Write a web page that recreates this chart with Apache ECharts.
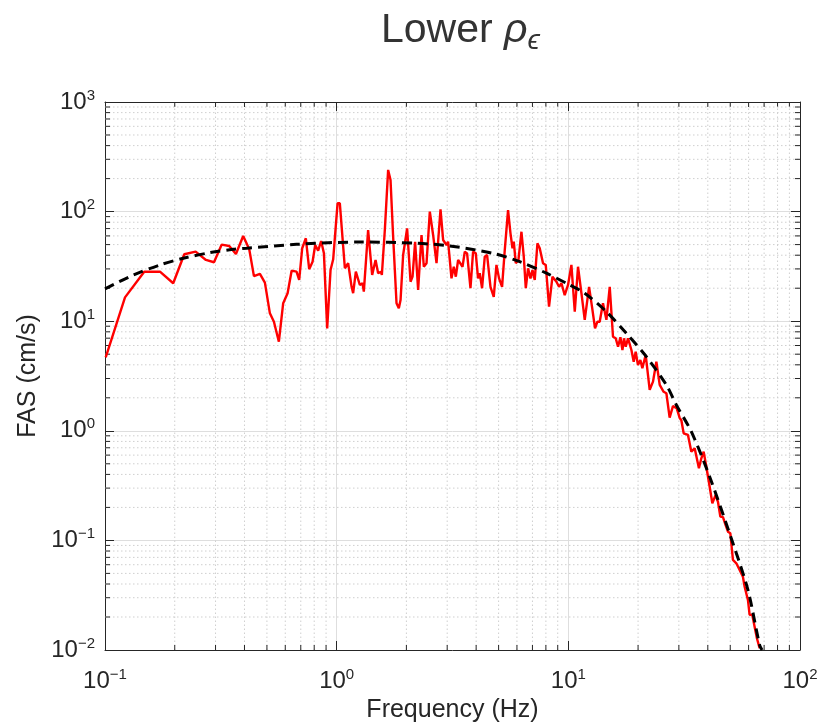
<!DOCTYPE html>
<html>
<head>
<meta charset="utf-8">
<script src="https://cdn.jsdelivr.net/npm/echarts@6/dist/echarts.min.js"></script>
<style>
html,body{margin:0;padding:0;background:#ffffff;}
#chart{width:818px;height:723px;}
</style>
</head>
<body>
<div id="chart"></div>
<script>
// ---- Data ----
const observedFreq = [
  0.1007,0.122,0.1477,0.1727,0.197,0.2199,0.2462,0.2727,0.2954,0.3187,
  0.3438,0.3674,0.395,0.4194,0.4394,0.4664,0.49,0.515,0.536,0.563,
  0.5877,0.614,0.639,0.671,0.689,0.71,0.736,0.761,0.787,0.808,
  0.832,0.857,0.881,0.91,0.941,0.966,1.009,1.032,1.085,1.121,
  1.16,1.178,1.21,1.259,1.293,1.31,1.367,1.423,1.472,1.51,
  1.551,1.567,1.614,1.668,1.708,1.753,1.813,1.855,1.887,1.936,
  2.014,2.084,2.126,2.181,2.247,2.324,2.378,2.443,2.524,2.608,
  2.698,2.807,2.881,2.98,3.027,3.131,3.203,3.268,3.344,3.493,
  3.573,3.656,3.781,3.88,3.986,4.077,4.147,4.243,4.358,4.459,
  4.612,4.765,4.895,5.023,5.176,5.316,5.493,5.627,5.74,5.814,
  5.932,6.092,6.275,6.422,6.551,6.702,6.864,7.002,7.161,7.356,
  7.526,7.776,7.99,8.255,8.54,8.884,9.119,9.338,9.647,9.97,
  10.31,10.66,11.01,11.39,11.77,12.29,12.65,13.04,13.35,13.66,
  14.11,14.6,15.09,15.59,16.02,16.39,16.78,17.12,17.39,17.69,
  18.1,18.72,19.15,19.53,19.98,20.46,20.87,21.57,22.45,23.2,
  23.99,24.8,25.79,26.5,27.37,28.29,29.35,30.24,30.75,31.46,
  32.84,33.96,35.1,35.69,36.62,37.51,38.38,39.42,40.74,41.84,
  43.24,44.24,45.3,46.5,47.75,48.86,50.04,51.35,53.11,54.88,
  56.7,57.68,59.6,60.61,62.26,63.69,65.16,66.94
];
const observedFas = [
  4.68,16.5,28.3,28.3,22.2,40.8,43.1,36.2,34.5,49.9,
  48.6,41.0,59.9,45.3,25.8,27.0,22.5,11.8,9.9,6.5,
  14.6,18.0,28.9,28.3,23.8,46.3,57.1,29.8,34.9,49.6,
  44.0,53.9,41.6,8.61,29.3,36.7,119,119,30.4,33.8,
  20.6,18.0,28.3,21.4,22.2,18.6,67.9,26.4,36.2,27.4,
  28.3,26.4,67.9,240,194,59.0,14.6,13.1,15.6,40.2,
  70.4,22.9,25.5,53.1,19.3,61.2,31.4,33.8,99.8,61.2,
  33.8,105,55.1,49.6,53.1,24.6,31.4,25.5,36.2,31.4,
  43.1,41.6,20.0,43.1,41.6,24.6,27.4,20.0,38.8,40.2,
  20.6,16.7,32.6,24.6,20.6,44.6,103,63.4,46.3,53.1,
  33.8,36.2,65.5,38.8,20.0,30.4,24.6,29.3,23.8,51.4,
  46.3,33.8,32.6,13.6,25.5,22.9,20.6,22.2,17.3,21.4,
  32.6,12.2,31.4,18.0,10.3,20.6,13.6,8.61,9.9,9.9,
  14.6,10.3,20.6,7.22,6.98,5.85,7.13,5.46,6.98,5.85,
  6.98,5.46,4.27,5.27,3.98,4.43,3.72,4.92,2.36,2.81,
  4.27,2.62,2.27,2.20,1.32,1.68,1.61,1.31,1.25,0.949,
  0.916,0.645,0.692,0.692,0.455,0.561,0.645,0.470,0.309,0.218,
  0.260,0.225,0.165,0.163,0.138,0.120,0.116,0.0663,0.0618,0.0537,
  0.0466,0.0378,0.0286,0.0209,0.0209,0.0163,0.0128,0.0104
];
const modelFreq = [0.1,0.1325,0.1727,0.2177,0.2838,0.3577,0.4087,0.671,1.259,2.212,
  3.078,4.732,6.17,8.045,10.14,11.77,14.6,17.81,21.72,26.5,
  29.26,33.96,40.74,51.35,59.6,66.94,68.6];
const modelFas = [19.7,26.4,32.6,37.5,42.2,45.3,46.3,50.3,52.8,51.4,
  48.6,41.6,34.9,27.4,21.4,18.0,12.2,7.76,4.75,2.62,
  1.72,0.981,0.381,0.0941,0.0353,0.0111,0.0100];

const xTickExponents = [-1, 0, 1, 2];
const yTickExponents = [-2, -1, 0, 1, 2, 3];
const xRange = [0.1, 100];
const yRange = [0.01, 1000];
const minorMultipliers = [2, 3, 4, 5, 6, 7, 8, 9];

// ---- helpers ----
const FONT = 'Liberation Sans';
const AXIS_COLOR = '#262626';
const MAJOR_GRID = '#dedede';
const MINOR_GRID = '#cfcfcf';
const MINOR_TICK_LEN = 5;

function minorValues(lo, hi) {
  const out = [];
  for (let e = Math.round(Math.log10(lo)); e < Math.round(Math.log10(hi)); e++) {
    minorMultipliers.forEach(m => out.push(m * Math.pow(10, e)));
  }
  return out;
}
const xMinor = minorValues(xRange[0], xRange[1]);
const yMinor = minorValues(yRange[0], yRange[1]);

function makeFormatter(exps) {
  return function (v) {
    const e = Math.round(Math.log10(v));
    if (exps.indexOf(e) < 0) return '';
    return '{b|10}{s|' + (e < 0 ? '\u2212' + (-e) : String(e)) + '}';
  };
}
const labelRich = {
  b: { fontSize: 24, lineHeight: 28, color: AXIS_COLOR, fontFamily: FONT },
  s: { fontSize: 15, lineHeight: 15, verticalAlign: 'top', color: AXIS_COLOR, fontFamily: FONT }
};

function baseAxis(range) {
  return {
    type: 'log', logBase: 10, min: range[0], max: range[1],
    axisLine: { show: true, onZero: false, lineStyle: { color: AXIS_COLOR, width: 1 } },
    axisTick: { show: true, inside: true, length: 9, lineStyle: { color: AXIS_COLOR, width: 1 } },
    minorTick: { show: false },
    minorSplitLine: { show: false }
  };
}

const xMain = Object.assign(baseAxis(xRange), {
  position: 'bottom',
  axisLabel: { formatter: makeFormatter(xTickExponents), margin: 17, rich: labelRich, hideOverlap: false },
  splitLine: { show: true, lineStyle: { color: MAJOR_GRID, width: 1 } },
  name: 'Frequency (Hz)', nameLocation: 'middle', nameGap: 45,
  nameTextStyle: { fontSize: 25, color: AXIS_COLOR, fontFamily: FONT }
});
const xTop = Object.assign(baseAxis(xRange), {
  position: 'top', axisLabel: { show: false }, splitLine: { show: false }
});
const yMain = Object.assign(baseAxis(yRange), {
  position: 'left',
  axisLabel: { formatter: makeFormatter(yTickExponents), margin: 10, rich: labelRich },
  splitLine: { show: true, lineStyle: { color: MAJOR_GRID, width: 1 } },
  name: 'FAS (cm/s)', nameLocation: 'middle', nameGap: 62,
  nameTextStyle: { fontSize: 25, color: AXIS_COLOR, fontFamily: FONT }
});
const yRight = Object.assign(baseAxis(yRange), {
  position: 'right', axisLabel: { show: false }, splitLine: { show: false }
});

function renderXMinor(params, api) {
  const v = api.value(0);
  const b = api.coord([v, yRange[0]]);
  const t = api.coord([v, yRange[1]]);
  return { type: 'group', children: [
    { type: 'line', shape: { x1: b[0], y1: b[1], x2: t[0], y2: t[1] },
      style: { stroke: MINOR_GRID, lineWidth: 1, lineDash: [1.5, 2.5] } },
    { type: 'line', shape: { x1: b[0], y1: b[1], x2: b[0], y2: b[1] - MINOR_TICK_LEN },
      style: { stroke: AXIS_COLOR, lineWidth: 1 } },
    { type: 'line', shape: { x1: t[0], y1: t[1], x2: t[0], y2: t[1] + MINOR_TICK_LEN },
      style: { stroke: AXIS_COLOR, lineWidth: 1 } }
  ]};
}
function renderYMinor(params, api) {
  const v = api.value(1);
  const l = api.coord([xRange[0], v]);
  const r = api.coord([xRange[1], v]);
  return { type: 'group', children: [
    { type: 'line', shape: { x1: l[0], y1: l[1], x2: r[0], y2: r[1] },
      style: { stroke: MINOR_GRID, lineWidth: 1, lineDash: [1.5, 2.5] } },
    { type: 'line', shape: { x1: l[0], y1: l[1], x2: l[0] + MINOR_TICK_LEN, y2: l[1] },
      style: { stroke: AXIS_COLOR, lineWidth: 1 } },
    { type: 'line', shape: { x1: r[0], y1: r[1], x2: r[0] - MINOR_TICK_LEN, y2: r[1] },
      style: { stroke: AXIS_COLOR, lineWidth: 1 } }
  ]};
}

const chart = echarts.init(document.getElementById('chart'), null, { renderer: 'canvas' });
chart.setOption({
  animation: false,
  backgroundColor: '#ffffff',
  title: {
    text: '{a|Lower }{b|\u03C1}{c|\u03F5}',
    left: 376, top: 2,
    textStyle: {
      fontWeight: 'normal',
      rich: {
        a: { fontSize: 41, lineHeight: 48, color: '#333333', fontFamily: FONT, fontWeight: 'normal' },
        b: { fontSize: 41, lineHeight: 48, color: '#333333', fontFamily: FONT, fontStyle: 'italic', fontWeight: 'normal' },
        c: { fontSize: 28, lineHeight: 18, color: '#333333', fontFamily: FONT, fontStyle: 'italic', fontWeight: 'normal', verticalAlign: 'bottom' }
      }
    }
  },
  grid: { left: 105, right: 18, top: 102, bottom: 73, containLabel: false, outerBoundsMode: 'none' },
  xAxis: [xMain, xTop],
  yAxis: [yMain, yRight],
  series: [
    { type: 'custom', name: 'xMinorGrid', xAxisIndex: 0, yAxisIndex: 0, z: 1, silent: true,
      renderItem: renderXMinor, data: xMinor.map(v => [v, 1]) },
    { type: 'custom', name: 'yMinorGrid', xAxisIndex: 0, yAxisIndex: 0, z: 1, silent: true,
      renderItem: renderYMinor, data: yMinor.map(v => [1, v]) },
    { type: 'line', name: 'Observed', xAxisIndex: 0, yAxisIndex: 0, z: 3,
      data: observedFreq.map((f, i) => [f, observedFas[i]]),
      showSymbol: false, symbol: 'none', clip: true,
      lineStyle: { color: '#ff0000', width: 2.4 } },
    { type: 'line', name: 'Model', xAxisIndex: 0, yAxisIndex: 0, z: 4,
      data: modelFreq.map((f, i) => [f, modelFas[i]]),
      showSymbol: false, symbol: 'none', clip: true, smooth: 0.3,
      lineStyle: { color: '#000000', width: 3, type: [10, 6] } }
  ]
});
</script>
</body>
</html>
